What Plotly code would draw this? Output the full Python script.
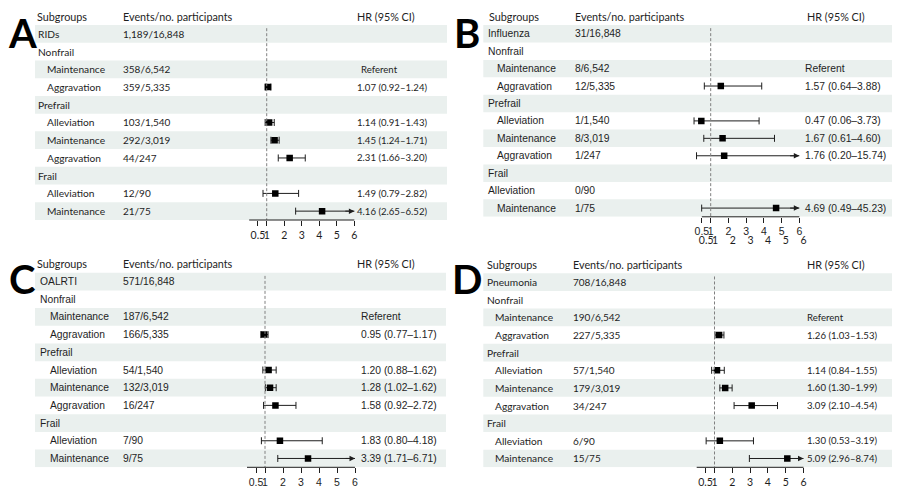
import plotly.graph_objects as go

# ---- data -----------------------------------------------------------------
XMAX = 6
TICK_VALS = [0.5, 1, 2, 3, 4, 5, 6]
TICK_TEXT = ["0.5", "1", "2", "3", "4", "5", "6"]
HEADERS = ["Subgroups", "Events/no. participants", "HR (95% CI)"]

labels_a = ["RIDs", "Nonfrail", "Maintenance", "Aggravation", "Prefrail", "Alleviation",
            "Maintenance", "Aggravation", "Frail", "Alleviation", "Maintenance"]
indent_a = [0, 0, 1, 1, 0, 1, 1, 1, 0, 1, 1]
events_a = ["1,189/16,848", "", "358/6,542", "359/5,335", "", "103/1,540",
            "292/3,019", "44/247", "", "12/90", "21/75"]
hr_a = [None, None, None, 1.07, None, 1.14, 1.45, 2.31, None, 1.49, 4.16]
lo_a = [None, None, None, 0.92, None, 0.91, 1.24, 1.66, None, 0.79, 2.65]
hi_a = [None, None, None, 1.24, None, 1.43, 1.71, 3.20, None, 2.82, 6.52]

labels_b = ["Influenza", "Nonfrail", "Maintenance", "Aggravation", "Prefrail", "Alleviation",
            "Maintenance", "Aggravation", "Frail", "Alleviation", "Maintenance"]
indent_b = [0, 0, 1, 1, 0, 1, 1, 1, 0, 0, 1]
events_b = ["31/16,848", "", "8/6,542", "12/5,335", "", "1/1,540",
            "8/3,019", "1/247", "", "0/90", "1/75"]
hr_b = [None, None, None, 1.57, None, 0.47, 1.67, 1.76, None, None, 4.69]
lo_b = [None, None, None, 0.64, None, 0.06, 0.61, 0.20, None, None, 0.49]
hi_b = [None, None, None, 3.88, None, 3.73, 4.60, 15.74, None, None, 45.23]

labels_c = ["OALRTI", "Nonfrail", "Maintenance", "Aggravation", "Prefrail", "Alleviation",
            "Maintenance", "Aggravation", "Frail", "Alleviation", "Maintenance"]
indent_c = [0, 0, 1, 1, 0, 1, 1, 1, 0, 1, 1]
events_c = ["571/16,848", "", "187/6,542", "166/5,335", "", "54/1,540",
            "132/3,019", "16/247", "", "7/90", "9/75"]
hr_c = [None, None, None, 0.95, None, 1.20, 1.28, 1.58, None, 1.83, 3.39]
lo_c = [None, None, None, 0.77, None, 0.88, 1.02, 0.92, None, 0.80, 1.71]
hi_c = [None, None, None, 1.17, None, 1.62, 1.62, 2.72, None, 4.18, 6.71]

labels_d = ["Pneumonia", "Nonfrail", "Maintenance", "Aggravation", "Prefrail", "Alleviation",
            "Maintenance", "Aggravation", "Frail", "Alleviation", "Maintenance"]
indent_d = [0, 0, 1, 1, 0, 1, 1, 1, 0, 1, 1]
events_d = ["708/16,848", "", "190/6,542", "227/5,335", "", "57/1,540",
            "179/3,019", "34/247", "", "6/90", "15/75"]
hr_d = [None, None, None, 1.26, None, 1.14, 1.60, 3.09, None, 1.30, 5.09]
lo_d = [None, None, None, 1.03, None, 0.84, 1.30, 2.10, None, 0.53, 2.96]
hi_d = [None, None, None, 1.53, None, 1.55, 1.99, 4.54, None, 3.19, 8.74]

REFERENT_ROW = 2  # Nonfrail / Maintenance

# ---- layout helpers --------------------------------------------------------
# the page body keeps its default 8px margin, so the figure is drawn 8px smaller
# and every pixel position below is given in window coordinates
OFF = 8
W, H = 900 - OFF, 503 - OFF
CAL = "Lato"
ARI = "Liberation Sans"
INK = "#1e1e1e"
BAND = "#EAF0EE"
HEAD_TOP = -0.45  # y range reaches just above the header row
TPAD = 1.5        # annotation box padding


def px(x):
    return (x - OFF) / W


def tx(x):
    return px(x - TPAD)


def py(y):
    return min(1.0, max(0.0, 1 - (y - OFF) / H))


# geometry of each panel, in window pixels; fonts: (labels, events, HR column)
panels = [
    dict(letter="A", lx=22, ly=33, labels=labels_a, indent=indent_a, events=events_a,
         hr=hr_a, lo=lo_a, hi=hi_a, band=(35, 447), top=25, bottom=220,
         c_head=36.7, c_lab=37.7, c_ind=46.7, c_ev=122.7, c_hrh=356, c_hr=356, c_ref=360,
         one=266.7, unit=17.53, start=0,
         f_lab=(CAL, 10.2), f_ev=(CAL, 10), f_hr=(CAL, 9.6), tickfont=CAL),
    dict(letter="B", lx=467, ly=33, labels=labels_b, indent=indent_b, events=events_b,
         hr=hr_b, lo=lo_b, hi=hi_b, band=(483.3, 894.3), top=25, bottom=216.8,
         c_head=488.3, c_lab=487.7, c_ind=496.7, c_ev=574, c_hrh=806.7, c_hr=804, c_ref=804,
         one=710.7, unit=17.72, start=0.5,
         f_lab=(ARI, 10.3), f_ev=(ARI, 10.3), f_hr=(ARI, 10.3), tickfont=ARI),
    dict(letter="C", lx=22, ly=279, labels=labels_c, indent=indent_c, events=events_c,
         hr=hr_c, lo=lo_c, hi=hi_c, band=(35, 446), top=272.7, bottom=467.3,
         c_head=36.7, c_lab=39.3, c_ind=49, c_ev=122.7, c_hrh=356, c_hr=360, c_ref=360,
         one=265, unit=18, start=0,
         f_lab=(ARI, 10.3), f_ev=(ARI, 10.3), f_hr=(ARI, 10.3), tickfont=ARI),
    dict(letter="D", lx=467, ly=279, labels=labels_d, indent=indent_d, events=events_d,
         hr=hr_d, lo=lo_d, hi=hi_d, band=(483.3, 894.3), top=273.3, bottom=467.3,
         c_head=486.7, c_lab=486, c_ind=494.3, c_ev=572.7, c_hrh=806, c_hr=806, c_ref=806,
         one=714.5, unit=17.8, start=0,
         f_lab=(CAL, 10.2), f_ev=(CAL, 10), f_hr=(CAL, 9.6), tickfont=CAL),
]

XR = (-0.5, 6.5)

fig = go.Figure()
annotations = []
shapes = []
layout_axes = {}


def text_ann(txt, x, y, yref, font):
    return dict(text=txt, x=tx(x), y=y, xref="paper", yref=yref, xanchor="left",
                yanchor="middle", showarrow=False,
                font=dict(family=font[0], size=font[1], color=INK))


for k, p in enumerate(panels):
    n = k + 1
    xa = "x" if n == 1 else f"x{n}"
    ya = "y" if n == 1 else f"y{n}"
    rows = list(range(1, len(p["labels"]) + 1))
    rh = (p["bottom"] - p["top"]) / len(rows)

    x0 = p["one"] + (XR[0] - 1) * p["unit"]
    x1 = p["one"] + (XR[1] - 1) * p["unit"]
    layout_axes["xaxis" if n == 1 else f"xaxis{n}"] = dict(
        domain=[px(x0), px(x1)], range=list(XR), anchor=ya, automargin=False,
        showgrid=False, zeroline=False, showline=False,
        ticks="outside", ticklen=5, tickwidth=1, tickcolor=INK,
        tickvals=TICK_VALS, ticktext=TICK_TEXT, tickangle=0,
        tickfont=dict(family=p["tickfont"], size=10.5, color=INK),
    )
    # row 0 is the header line, rows 1..11 the table
    layout_axes["yaxis" if n == 1 else f"yaxis{n}"] = dict(
        domain=[py(p["bottom"]), py(p["top"] - (0.5 - HEAD_TOP) * rh)],
        range=[len(rows) + 0.5, HEAD_TOP],
        anchor=xa, visible=False, showgrid=False, zeroline=False, automargin=False,
    )

    # alternating row bands
    for r in rows[::2]:
        shapes.append(dict(type="rect", xref="paper", yref=ya,
                           x0=px(p["band"][0]), x1=px(p["band"][1]),
                           y0=r - 0.5, y1=r + 0.5, fillcolor=BAND,
                           line=dict(width=0), layer="below"))
    # reference line at HR = 1
    shapes.append(dict(type="line", xref=xa, yref=ya, x0=1, x1=1,
                       y0=0.68, y1=len(rows) + 0.5,
                       line=dict(color="#808080", width=1, dash="3px,2px")))
    # axis line
    shapes.append(dict(type="line", xref=xa, yref=f"{ya} domain", x0=p["start"], x1=XMAX,
                       y0=0, y1=0, line=dict(color=INK, width=1)))

    # whiskers, caps and point estimates
    wx, wy, cx, cy, sx, sy = [], [], [], [], [], []
    for r, h, lo, hi in zip(rows, p["hr"], p["lo"], p["hi"]):
        if h is None:
            continue
        wx += [lo, min(hi, XMAX), None]
        wy += [r, r, None]
        cx.append(lo)
        cy.append(r)
        if hi <= XMAX:
            cx.append(hi)
            cy.append(r)
        else:
            annotations.append(dict(x=XMAX, y=r, ax=XMAX - 0.6, ay=r, xref=xa, yref=ya,
                                    axref=xa, ayref=ya, showarrow=True, arrowhead=2,
                                    arrowsize=1.1, arrowwidth=1, arrowcolor=INK, text=""))
        sx.append(h)
        sy.append(r)
    fig.add_trace(go.Scatter(x=wx, y=wy, mode="lines", xaxis=xa, yaxis=ya,
                             line=dict(color=INK, width=1), hoverinfo="skip"))
    fig.add_trace(go.Scatter(x=cx, y=cy, mode="markers", xaxis=xa, yaxis=ya, cliponaxis=False,
                             marker=dict(symbol="line-ns", size=5,
                                         line=dict(color=INK, width=1))))
    fig.add_trace(go.Scatter(x=sx, y=sy, mode="markers", xaxis=xa, yaxis=ya,
                             marker=dict(symbol="square", size=6.5, color="black")))

    # header row
    for txt, cx_ in zip(HEADERS, [p["c_head"], p["c_ev"], p["c_hrh"]]):
        annotations.append(text_ann(txt, cx_, 0, ya, (CAL, 10.8)))
    # table rows
    for r, lab, ind, ev, h, lo, hi in zip(rows, p["labels"], p["indent"], p["events"],
                                         p["hr"], p["lo"], p["hi"]):
        annotations.append(text_ann(lab, p["c_ind"] if ind else p["c_lab"], r, ya, p["f_lab"]))
        if ev:
            annotations.append(text_ann(ev, p["c_ev"], r, ya, p["f_ev"]))
        if r - 1 == REFERENT_ROW:
            annotations.append(text_ann("Referent", p["c_ref"], r, ya, p["f_hr"]))
        elif h is not None:
            annotations.append(text_ann(f"{h:.2f} ({lo:.2f}\u2013{hi:.2f})", p["c_hr"], r, ya,
                                        p["f_hr"]))

    # panel letter
    annotations.append(dict(text=f"<b>{p['letter']}</b>", x=px(p["lx"]), y=py(p["ly"]),
                            xref="paper", yref="paper", xanchor="center", yanchor="middle",
                            showarrow=False, font=dict(family=CAL, size=40, color="black")))

# panel B carries a second, slightly shifted row of tick labels
pb = panels[1]
bx0 = pb["one"] + (XR[0] - 1) * pb["unit"] + 4.3
bx1 = pb["one"] + (XR[1] - 1) * pb["unit"] + 4.3
layout_axes["xaxis5"] = dict(
    domain=[px(bx0), px(bx1)], range=list(XR), anchor="free", position=py(pb["bottom"] + 15.5),
    showgrid=False, zeroline=False, showline=False, ticks="", tickangle=0, automargin=False,
    tickvals=TICK_VALS, ticktext=TICK_TEXT,
    tickfont=dict(family=CAL, size=10.5, color=INK),
)
fig.add_trace(go.Scatter(x=TICK_VALS, y=[None] * len(TICK_VALS), xaxis="x5", yaxis="y2",
                         mode="markers", hoverinfo="skip"))

fig.update_layout(
    template="none",
    width=W, height=H, margin=dict(l=0, r=0, t=0, b=0, pad=0),
    paper_bgcolor="white", plot_bgcolor="rgba(0,0,0,0)", showlegend=False,
    shapes=shapes, annotations=annotations, **layout_axes,
)

fig.write_html("out.html")
